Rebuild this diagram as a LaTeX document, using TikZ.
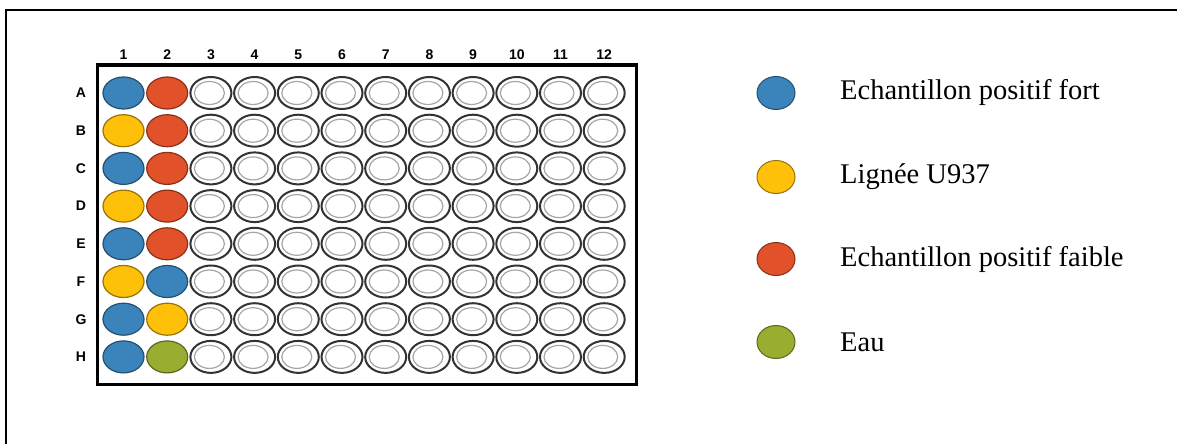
\documentclass[tikz,border=0pt]{standalone}
\usepackage{fontspec}
\setmainfont{Liberation Serif}
\newfontfamily\platefont{Liberation Sans}
\usetikzlibrary{shapes.geometric}

\definecolor{fort}{RGB}{59,132,187}
\definecolor{faible}{RGB}{226,82,42}
\definecolor{lignee}{RGB}{255,192,10}
\definecolor{eau}{RGB}{153,174,48}

\tikzset{
  well/.style={draw=black!80, ellipse, line width=2pt, fill=white,
    minimum width=41pt, minimum height=32pt, inner sep=0pt,
    path picture={\draw[black!35, line width=1.2pt]
      ([xshift=-1.5pt]path picture bounding box.center) ellipse (15pt and 11.5pt);}},
  fullwell/.style={draw=#1!60!black, ellipse, line width=1.2pt, fill=#1,
    minimum width=41pt, minimum height=32pt, inner sep=0pt},
  keydot/.style={draw=#1!60!black, ellipse, line width=1pt, fill=#1,
    minimum width=38pt, minimum height=33pt, inner sep=0pt},
  platelabel/.style={font=\platefont\bfseries\fontsize{14}{16}\selectfont},
  keytext/.style={anchor=west, font=\fontsize{28.5}{32}\selectfont, inner sep=0pt}
}

\begin{document}
\begin{tikzpicture}[x=1pt, y=-1pt]
  \useasboundingbox (0,0) rectangle (1177,444);
  \draw[line width=1.5pt] (6,444) -- (6,10) -- (1177,10);

  % plate
  \node[draw, rectangle, line width=3pt, fill=white, minimum width=539pt,
    minimum height=319pt, inner sep=0pt] (plate) at (366.5,224.5) {};

  \foreach \c in {1,...,12}
    \node[platelabel] (col\c) at ({123.5+43.7*(\c-1)},55) {\c};
  \foreach \r [count=\i] in {A,B,C,D,E,F,G,H}
    \node[platelabel] (row\r) at (81,{93+37.7*(\i-1)}) {\r};

  \foreach \r [count=\i] in {A,B,C,D,E,F,G,H}
    \foreach \c in {3,...,12}
      \node[well] (\r\c) at ({123.5+43.7*(\c-1)},{93+37.7*(\i-1)}) {};

  % samples in columns 1 and 2
  \foreach \r/\one/\two [count=\i] in {A/fort/faible, B/lignee/faible,
      C/fort/faible, D/lignee/faible, E/fort/faible, F/lignee/fort,
      G/fort/lignee, H/fort/eau} {
    \node[fullwell=\one] (\r1) at (123.5,{93+37.7*(\i-1)}) {};
    \node[fullwell=\two] (\r2) at (167.2,{93+37.7*(\i-1)}) {};
  }

  % legend
  \foreach \col/\txt/\y in {fort/Echantillon positif fort/93,
      lignee/Lignée U937/177, faible/Echantillon positif faible/259,
      eau/Eau/342} {
    \node[keydot=\col] (key\col) at (776,\y) {};
    \node[keytext] (txt\col) at (840,\y) {\txt};
  }
\end{tikzpicture}
\end{document}
